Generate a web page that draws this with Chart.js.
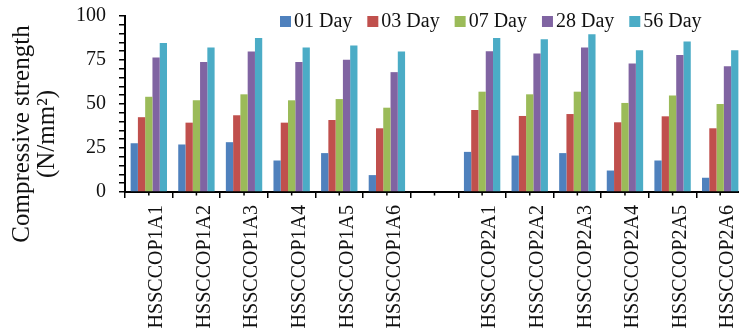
<!DOCTYPE html>
<html>
<head>
<meta charset="utf-8">
<script src="https://cdn.jsdelivr.net/npm/chart.js@4.4.0/dist/chart.umd.min.js"></script>
<style>
  html, body { margin: 0; padding: 0; background: #fff; overflow: hidden; }
  #wrap { position: relative; width: 744px; height: 331px; }
</style>
</head>
<body>
<div id="wrap"><canvas id="chart"></canvas></div>
<script>
// Mix designs (an empty slot separates the two series of mixes)
const categories = [
  'HSSCCOP1A1', 'HSSCCOP1A2', 'HSSCCOP1A3', 'HSSCCOP1A4', 'HSSCCOP1A5', 'HSSCCOP1A6',
  '',
  'HSSCCOP2A1', 'HSSCCOP2A2', 'HSSCCOP2A3', 'HSSCCOP2A4', 'HSSCCOP2A5', 'HSSCCOP2A6'
];
const seriesNames = ['01 Day', '03 Day', '07 Day', '28 Day', '56 Day'];

// Compressive strength, N/mm²
const day01 = [27.7, 27.0, 28.3, 17.9, 22.1,  9.6, null, 22.8, 20.7, 22.1, 12.2, 17.9,  8.1];
const day03 = [42.5, 39.4, 43.6, 39.4, 40.9, 36.2, null, 46.6, 43.2, 44.3, 39.6, 43.0, 36.2];
const day07 = [54.1, 52.1, 55.5, 52.1, 52.8, 47.9, null, 57.0, 55.5, 57.0, 50.6, 54.9, 50.0];
const day28 = [76.4, 73.8, 79.8, 73.8, 75.1, 68.1, null, 80.0, 78.7, 82.1, 73.0, 77.9, 71.5];
const day56 = [84.7, 82.1, 87.5, 82.1, 83.2, 79.8, null, 87.5, 86.8, 89.6, 80.6, 85.5, 80.6];

const yTickLabels = [0, 25, 50, 75, 100];
const yTitle = ['Compressive strength', '(N/mm²)'];

const seriesColors = ['#4F81BD', '#C0504D', '#9BBB59', '#8064A2', '#4BACC6'];
const FONT = '"Liberation Serif", "Times New Roman", serif';
const INK = '#111';

const seriesValues = [day01, day03, day07, day28, day56];
const datasets = seriesNames.map((name, i) => ({
  label: name,
  data: seriesValues[i],
  backgroundColor: seriesColors[i],
  borderWidth: 0,
  barPercentage: 1.0,
  categoryPercentage: 0.764
}));

// Legend row across the top of the plot
const dayLegend = {
  id: 'dayLegend',
  afterDraw(chart) {
    const ctx = chart.ctx;
    ctx.save();
    ctx.font = '20px ' + FONT;
    ctx.textBaseline = 'middle';
    ctx.textAlign = 'left';
    let x = 280;
    const y = 21.5;
    chart.data.datasets.forEach(ds => {
      ctx.fillStyle = ds.backgroundColor;
      ctx.fillRect(x, y - 5.5, 11, 11);
      ctx.fillStyle = INK;
      ctx.fillText(ds.label, x + 14, y);
      x += 14 + ctx.measureText(ds.label).width + 15;
    });
    ctx.restore();
  }
};

// Two-line rotated title for the value axis
const valueAxisTitle = {
  id: 'valueAxisTitle',
  afterDraw(chart) {
    const ctx = chart.ctx;
    ctx.save();
    ctx.font = '25px ' + FONT;
    ctx.fillStyle = INK;
    ctx.textAlign = 'center';
    ctx.textBaseline = 'middle';
    const lineX = [22, 47.5];
    yTitle.forEach((line, i) => {
      ctx.save();
      ctx.translate(lineX[i], 134);
      ctx.rotate(-Math.PI / 2);
      ctx.fillText(line, 0, 0);
      ctx.restore();
    });
    ctx.restore();
  }
};

// Short tick marks under the middle of each category
const centreTicks = {
  id: 'centreTicks',
  afterDraw(chart) {
    const xs = chart.scales.x;
    const ctx = chart.ctx;
    ctx.save();
    ctx.strokeStyle = '#000';
    ctx.lineWidth = 1.5;
    ctx.beginPath();
    categories.forEach((c, i) => {
      const px = xs.getPixelForValue(i);
      ctx.moveTo(px, xs.top);
      ctx.lineTo(px, xs.top + 3.5);
    });
    ctx.stroke();
    ctx.restore();
  }
};

new Chart(document.getElementById('chart'), {
  type: 'bar',
  data: { labels: categories, datasets },
  options: {
    responsive: true,
    maintainAspectRatio: false,
    animation: false,
    layout: { padding: { top: 16, left: 0, right: 0, bottom: 0 } },
    plugins: {
      legend: { display: false },
      tooltip: { enabled: false },
      title: { display: false }
    },
    scales: {
      x: {
        offset: true,
        grid: {
          display: true,
          offset: true,
          drawOnChartArea: false,
          drawTicks: true,
          tickLength: 6,
          color: '#000',
          lineWidth: 1.5
        },
        border: { display: true, color: '#000', width: 2 },
        ticks: {
          autoSkip: false,
          minRotation: 90,
          maxRotation: 90,
          padding: 7,
          labelOffset: 8,
          color: INK,
          font: { family: FONT, size: 20 }
        },
        afterFit(s) {
          s.height = 139;
          s.paddingLeft = 0;
          s.paddingRight = 0;
        }
      },
      y: {
        min: 0,
        max: 100,
        grid: {
          display: true,
          drawOnChartArea: false,
          drawTicks: true,
          tickLength: 6,
          color: '#000',
          lineWidth: 1.5
        },
        border: { display: true, color: '#000', width: 2 },
        ticks: {
          stepSize: 5,
          autoSkip: false,
          padding: 13,
          color: INK,
          font: { family: FONT, size: 20 },
          callback: v => (yTickLabels.includes(v) ? String(v) : '')
        },
        afterFit(s) {
          s.width = 125;
          s.paddingTop = 0;
          s.paddingBottom = 0;
        }
      }
    }
  },
  plugins: [dayLegend, valueAxisTitle, centreTicks]
});
</script>
</body>
</html>
